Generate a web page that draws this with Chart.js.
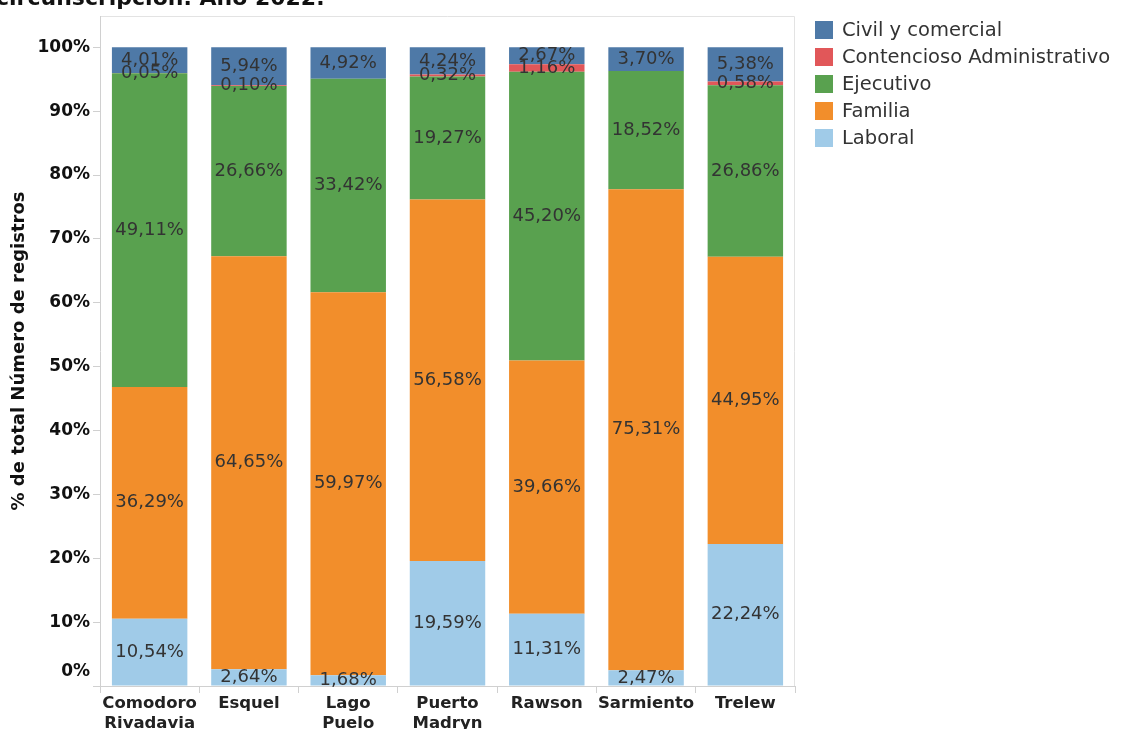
<!DOCTYPE html>
<html lang="es">
<head>
<meta charset="utf-8">
<script src="https://cdn.jsdelivr.net/npm/chart.js@4/dist/chart.umd.min.js"></script>
<style>
    html, body { margin: 0; padding: 0; background: #fff; overflow: hidden; }
    #wrap { position: relative; width: 1127px; height: 729px; }
    #titulo {
        position: absolute; left: -4px; top: -15px;
        font: bold 22px 'DejaVu Sans', sans-serif; color: #111; white-space: nowrap;
    }
    #leyenda { position: absolute; left: 815px; top: 16px; font: 19.5px 'DejaVu Sans', sans-serif; color: #333; }
    #leyenda div { height: 27px; display: flex; align-items: center; }
    #leyenda span.box { width: 18px; height: 18px; margin-right: 9px; display: inline-block; }
</style>
</head>
<body>
<div id="wrap">
    <canvas id="grafico" width="1127" height="729"></canvas>
    <div id="titulo">circunscripción. Año 2022.</div>
    <div id="leyenda"></div>
</div>
<script>
'use strict';

// Datos (porcentaje del total de registros por circunscripción)
const circunscripciones = [
    ['Comodoro', 'Rivadavia'], 'Esquel', ['Lago', 'Puelo'], ['Puerto', 'Madryn'],
    'Rawson', 'Sarmiento', 'Trelew'
];
const materias = ['Laboral', 'Familia', 'Ejecutivo', 'Contencioso Administrativo', 'Civil y comercial'];
const colores = ['#a0cbe8', '#f28e2b', '#59a14f', '#e15759', '#4e79a7'];

const laboral = [10.54, 2.64, 1.68, 19.59, 11.31, 2.47, 22.24];
const familia = [36.29, 64.65, 59.97, 56.58, 39.66, 75.31, 44.95];
const ejecutivo = [49.11, 26.66, 33.42, 19.27, 45.20, 18.52, 26.86];
const contencioso = [0.05, 0.10, 0, 0.32, 1.16, 0, 0.58];
const civil = [4.01, 5.94, 4.92, 4.24, 2.67, 3.70, 5.38];

const yTicks = [0, 10, 20, 30, 40, 50, 60, 70, 80, 90, 100];

const series = [laboral, familia, ejecutivo, contencioso, civil];

function fmt(v) {
    return v.toFixed(2).replace('.', ',') + '%';
}

// etiquetas de valor en el centro de cada segmento
const etiquetas = {
    id: 'etiquetas',
    afterDatasetsDraw(chart) {
        const ctx = chart.ctx;
        ctx.save();
        ctx.font = '18px "DejaVu Sans", sans-serif';
        ctx.fillStyle = '#333';
        ctx.textAlign = 'center';
        ctx.textBaseline = 'middle';
        chart.data.datasets.forEach((ds, i) => {
            chart.getDatasetMeta(i).data.forEach((bar, j) => {
                const v = ds.data[j];
                if (!v) return;
                ctx.fillText(fmt(v), bar.x, (bar.y + bar.base) / 2);
            });
        });
        ctx.restore();
    }
};

// borde gris claro del área del gráfico
const marco = {
    id: 'marco',
    beforeDraw(chart) {
        const a = chart.chartArea;
        const ctx = chart.ctx;
        ctx.save();
        ctx.strokeStyle = '#e3e3e3';
        ctx.lineWidth = 1;
        ctx.beginPath();
        ctx.moveTo(a.left, a.top + 0.5);
        ctx.lineTo(a.right - 0.5, a.top + 0.5);
        ctx.lineTo(a.right - 0.5, a.bottom);
        ctx.stroke();
        ctx.restore();
    }
};

const leyenda = document.getElementById('leyenda');
for (let i = materias.length - 1; i >= 0; i--) {
    const row = document.createElement('div');
    row.innerHTML = '<span class="box" style="background:' + colores[i] + '"></span>' + materias[i];
    leyenda.appendChild(row);
}

new Chart(document.getElementById('grafico'), {
    type: 'bar',
    data: {
        labels: circunscripciones,
        datasets: series.map((d, i) => ({
            label: materias[i],
            data: d,
            backgroundColor: colores[i],
            categoryPercentage: 1,
            barPercentage: 0.76
        }))
    },
    options: {
        responsive: false,
        animation: false,
        layout: { padding: { top: 16, right: 332, left: 0, bottom: 0 } },
        plugins: {
            legend: { display: false },
            tooltip: { enabled: false }
        },
        scales: {
            x: {
                stacked: true,
                afterFit: s => { s.height = 43; },
                grid: { drawOnChartArea: false, tickLength: 7, color: '#d0d0d0' },
                border: { color: '#d0d0d0' },
                ticks: {
                    padding: 1,
                    maxRotation: 0,
                    autoSkip: false,
                    color: '#222',
                    font: { family: 'DejaVu Sans', weight: 'bold', size: 16.5 }
                }
            },
            y: {
                stacked: true,
                min: 0,
                max: 104.9,
                afterFit: s => { s.width = 100; s.paddingTop = 0; },
                afterBuildTicks: s => { s.ticks = yTicks.map(v => ({ value: v })); },
                grid: { drawOnChartArea: false, tickLength: 7, color: '#d0d0d0' },
                border: { color: '#d0d0d0' },
                ticks: {
                    padding: 3,
                    color: '#111',
                    font: { family: 'DejaVu Sans', weight: 'bold', size: 17, lineHeight: 1.7 },
                    callback: v => v === 0 ? ['0%', ''] : v + '%'
                },
                title: {
                    display: true,
                    text: '% de total Número de registros',
                    color: '#111',
                    padding: { top: 9, bottom: 0 },
                    font: { family: 'DejaVu Sans', weight: 'bold', size: 18 }
                }
            }
        }
    },
    plugins: [etiquetas, marco]
});
</script>
</body>
</html>
